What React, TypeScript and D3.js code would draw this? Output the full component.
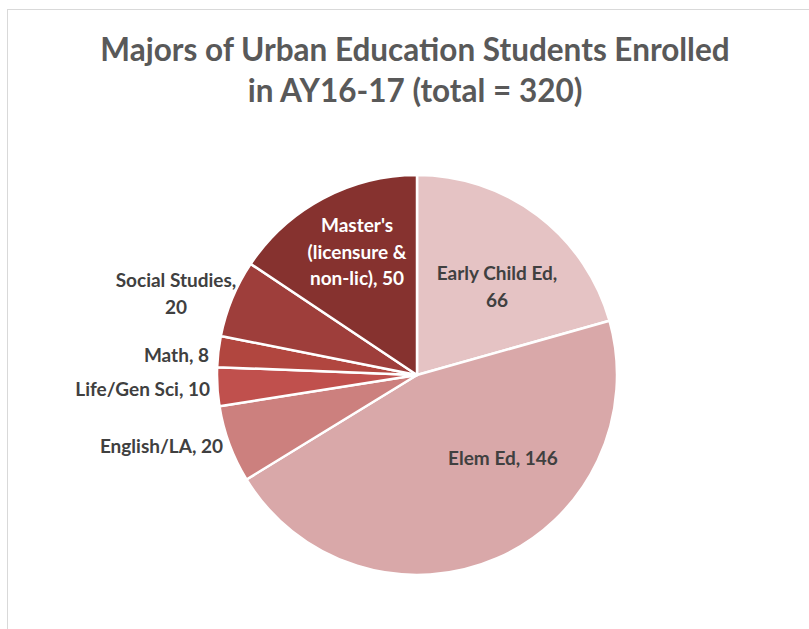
import React from "react";
import * as d3 from "d3";

const categories = [
  "Early Child Ed",
  "Elem Ed",
  "English/LA",
  "Life/Gen Sci",
  "Math",
  "Social Studies",
  "Master's (licensure & non-lic)",
];
const values = [66, 146, 20, 10, 8, 20, 50];
const colors = ["#E5C3C4", "#D9A8A9", "#CC807E", "#C0504D", "#B1463F", "#9E3E3B", "#86322F"];
const titleLines = ["Majors of Urban Education Students Enrolled", "in AY16-17 (total = 320)"];

// label layout: lines, position, anchor, color
const labelLayout = [
  { lines: ["Early Child Ed,", "66"], x: 497, y: 280, anchor: "middle", fill: "#404040" },
  { lines: ["Elem Ed, 146"], x: 503, y: 465, anchor: "middle", fill: "#404040" },
  { lines: ["English/LA, 20"], x: 223, y: 453, anchor: "end", fill: "#404040" },
  { lines: ["Life/Gen Sci, 10"], x: 210, y: 396, anchor: "end", fill: "#404040" },
  { lines: ["Math, 8"], x: 209, y: 362, anchor: "end", fill: "#404040" },
  { lines: ["Social Studies,", "20"], x: 176, y: 287, anchor: "middle", fill: "#404040" },
  { lines: ["Master's", "(licensure &", "non-lic), 50"], x: 357, y: 232, anchor: "middle", fill: "#FFFFFF" },
];

export default function App() {
  const W = 809, H = 629;
  const cx = 417, cy = 375, r = 200;
  const pie = d3.pie<number>().sort(null).value((d) => d)(values);
  const arc = d3.arc<d3.PieArcDatum<number>>().innerRadius(0).outerRadius(r);
  const font = "Lato, 'Open Sans', sans-serif";
  return (
    <svg width={W} height={H} style={{ position: "absolute", left: 0, top: 0 }}>
      <rect x={0} y={0} width={W} height={H} fill="#fff" />
      <rect x={7.5} y={9.5} width={W} height={H} fill="#fff" stroke="#D9D9D9" strokeWidth={1} />
      {titleLines.map((t, i) => (
        <text key={i} x={415} y={61 + i * 41} textAnchor="middle" fontFamily={font} fontWeight={700}
          fontSize={31.5} fill="#595959">{t}</text>
      ))}
      <g transform={`translate(${cx},${cy})`}>
        {pie.map((p, i) => (
          <path key={categories[i]} d={arc(p) || ""} fill={colors[i]} stroke="#fff" strokeWidth={2.5} strokeLinejoin="round" />
        ))}
      </g>
      {labelLayout.map((l, i) => (
        <text key={i} x={l.x} y={l.y} textAnchor={l.anchor as any} fontFamily={font} fontWeight={700}
          fontSize={19} fill={l.fill}>
          {l.lines.map((ln, j) => (
            <tspan key={j} x={l.x} dy={j === 0 ? 0 : 26.5}>{ln}</tspan>
          ))}
        </text>
      ))}
    </svg>
  );
}
